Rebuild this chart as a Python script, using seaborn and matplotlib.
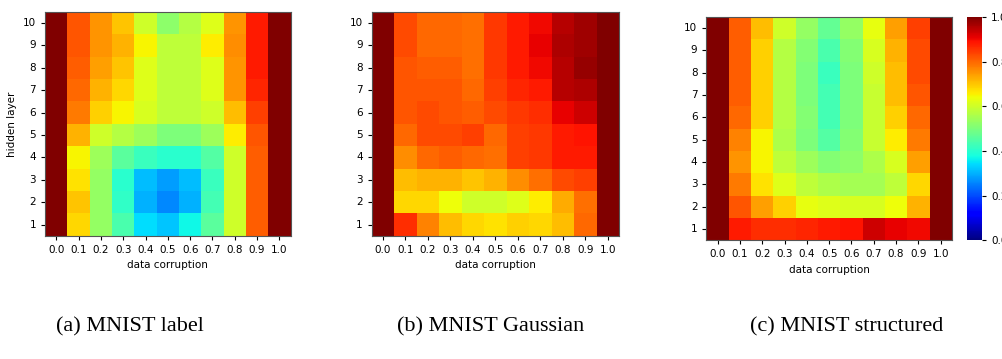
import numpy as np
import pandas as pd
import matplotlib
matplotlib.use("Agg")
import matplotlib.pyplot as plt
import seaborn as sns

corruption = ["0.0", "0.1", "0.2", "0.3", "0.4", "0.5", "0.6", "0.7", "0.8", "0.9", "1.0"]
layers = [10, 9, 8, 7, 6, 5, 4, 3, 2, 1]

# rows from hidden layer 10 (top) down to 1 (bottom)
mnist_label = [
    [1.0, 0.82, 0.75, 0.70, 0.60, 0.52, 0.57, 0.62, 0.75, 0.88, 1.0],
    [1.0, 0.82, 0.75, 0.72, 0.65, 0.58, 0.58, 0.66, 0.76, 0.88, 1.0],
    [1.0, 0.81, 0.74, 0.70, 0.62, 0.58, 0.58, 0.62, 0.75, 0.88, 1.0],
    [1.0, 0.80, 0.72, 0.68, 0.62, 0.58, 0.58, 0.62, 0.75, 0.87, 1.0],
    [1.0, 0.78, 0.69, 0.65, 0.61, 0.58, 0.58, 0.60, 0.71, 0.84, 1.0],
    [1.0, 0.72, 0.60, 0.57, 0.54, 0.50, 0.50, 0.54, 0.66, 0.82, 1.0],
    [1.0, 0.65, 0.54, 0.46, 0.42, 0.40, 0.40, 0.45, 0.60, 0.81, 1.0],
    [1.0, 0.67, 0.53, 0.40, 0.31, 0.28, 0.31, 0.42, 0.60, 0.81, 1.0],
    [1.0, 0.70, 0.53, 0.41, 0.30, 0.26, 0.30, 0.43, 0.60, 0.81, 1.0],
    [1.0, 0.68, 0.53, 0.44, 0.34, 0.32, 0.37, 0.46, 0.60, 0.81, 1.0],
]
mnist_gaussian = [
    [1.0, 0.83, 0.80, 0.80, 0.79, 0.85, 0.88, 0.90, 0.95, 0.97, 1.0],
    [1.0, 0.83, 0.80, 0.80, 0.79, 0.85, 0.88, 0.91, 0.96, 0.97, 1.0],
    [1.0, 0.82, 0.81, 0.81, 0.79, 0.85, 0.88, 0.90, 0.95, 0.98, 1.0],
    [1.0, 0.82, 0.82, 0.82, 0.80, 0.84, 0.87, 0.88, 0.95, 0.96, 1.0],
    [1.0, 0.82, 0.83, 0.82, 0.81, 0.83, 0.85, 0.86, 0.91, 0.93, 1.0],
    [1.0, 0.80, 0.83, 0.83, 0.84, 0.80, 0.84, 0.85, 0.88, 0.89, 1.0],
    [1.0, 0.76, 0.80, 0.81, 0.80, 0.79, 0.84, 0.85, 0.88, 0.88, 1.0],
    [1.0, 0.71, 0.72, 0.72, 0.70, 0.72, 0.76, 0.79, 0.83, 0.84, 1.0],
    [1.0, 0.68, 0.68, 0.64, 0.60, 0.60, 0.62, 0.66, 0.73, 0.79, 1.0],
    [1.0, 0.86, 0.77, 0.71, 0.68, 0.67, 0.69, 0.68, 0.71, 0.80, 1.0],
]
mnist_structured = [
    [1.0, 0.81, 0.71, 0.60, 0.53, 0.47, 0.53, 0.63, 0.74, 0.84, 1.0],
    [1.0, 0.81, 0.69, 0.57, 0.51, 0.44, 0.51, 0.61, 0.72, 0.83, 1.0],
    [1.0, 0.81, 0.69, 0.57, 0.50, 0.42, 0.50, 0.60, 0.71, 0.83, 1.0],
    [1.0, 0.81, 0.69, 0.57, 0.50, 0.43, 0.50, 0.59, 0.71, 0.82, 1.0],
    [1.0, 0.80, 0.69, 0.57, 0.51, 0.43, 0.50, 0.59, 0.69, 0.80, 1.0],
    [1.0, 0.77, 0.65, 0.56, 0.50, 0.45, 0.51, 0.59, 0.66, 0.78, 1.0],
    [1.0, 0.75, 0.65, 0.58, 0.54, 0.51, 0.52, 0.56, 0.61, 0.74, 1.0],
    [1.0, 0.78, 0.67, 0.62, 0.58, 0.56, 0.55, 0.55, 0.58, 0.68, 1.0],
    [1.0, 0.82, 0.74, 0.69, 0.63, 0.62, 0.61, 0.61, 0.64, 0.72, 1.0],
    [1.0, 0.88, 0.86, 0.86, 0.87, 0.88, 0.89, 0.93, 0.91, 0.90, 1.0],
]
captions = ["(a) MNIST label", "(b) MNIST Gaussian", "(c) MNIST structured"]

fig = plt.figure(figsize=(10.02, 3.59), dpi=100)
ax_a = fig.add_axes([0.045, 0.343, 0.245, 0.624])
ax_b = fig.add_axes([0.371, 0.343, 0.247, 0.624])
ax_c = fig.add_axes([0.705, 0.331, 0.245, 0.622])
cax = fig.add_axes([0.965, 0.331, 0.015, 0.622])

panels = [(ax_a, mnist_label), (ax_b, mnist_gaussian), (ax_c, mnist_structured)]
for i, (ax, vals) in enumerate(panels):
    df = pd.DataFrame(vals, index=layers, columns=corruption)
    sns.heatmap(df, ax=ax, cmap="jet", vmin=0, vmax=1,
                cbar=(i == 2), cbar_ax=cax if i == 2 else None)
    for s in ax.spines.values():
        s.set_visible(True)
        s.set_color("#555555")
        s.set_linewidth(0.8)
    ax.tick_params(labelsize=7.5, length=3)
    ax.set_yticklabels(ax.get_yticklabels(), rotation=0)
    ax.set_xticklabels(ax.get_xticklabels(), rotation=0)
    ax.set_xlabel("data corruption", fontsize=7.5)
    if i == 0:
        ax.set_ylabel("hidden layer", fontsize=7.5)

cax.tick_params(labelsize=7.5, length=3)
cax.set_yticks([0.0, 0.2, 0.4, 0.6, 0.8, 1.0])
cax.set_yticklabels(["0.0", "0.2", "0.4", "0.6", "0.8", "1.0"])

for x, txt in zip([0.13, 0.49, 0.845], captions):
    fig.text(x, 0.09, txt, ha="center", va="center",
             fontsize=16, family="Liberation Serif")

fig.savefig("out.png", dpi=100)
